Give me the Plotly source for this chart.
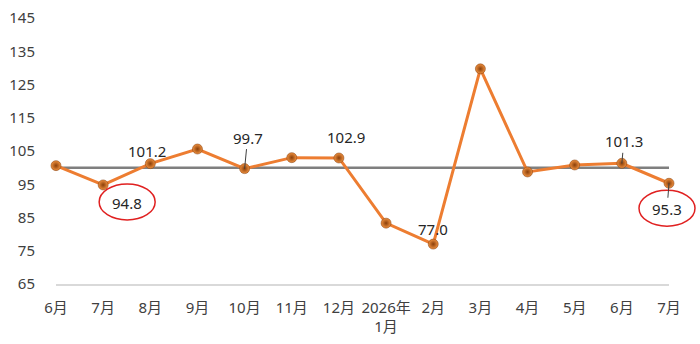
import plotly.graph_objects as go

months = ["6月", "7月", "8月", "9月", "10月", "11月", "12月", "2026年<br>1月",
          "2月", "3月", "4月", "5月", "6月", "7月"]
values = [100.6, 94.8, 101.2, 105.6, 99.7, 103.0, 102.9, 83.3, 77.0, 129.7, 98.7, 100.8, 101.3, 95.3]
baseline = 100
y_ticks = [65, 75, 85, 95, 105, 115, 125, 135, 145]
y_min, y_max = 65, 145

# labelled points: index -> (dx, dy, leader line, circled)
labels = {1: (24, 18, False, True), 2: (-3, -13, False, False), 4: (3, -31, True, False),
          6: (7, -21, False, False), 8: (0, -15, False, False), 12: (2, -22, True, False),
          13: (-2, 26, True, True)}

xs = list(range(len(months)))
font_family = "Noto Sans, Noto Sans CJK SC, sans-serif"

fig = go.Figure()
fig.add_trace(go.Scatter(x=xs, y=[baseline] * len(xs), mode="lines",
                         line=dict(color="#7f7f7f", width=2.5), hoverinfo="skip",
                         cliponaxis=False))
fig.add_trace(go.Scatter(x=xs, y=values, mode="lines+markers",
                         line=dict(color="#ED7D31", width=3),
                         marker=dict(size=10, color="#F0913F",
                                     gradient=dict(type="radial", color="#8a3f0a"),
                                     line=dict(width=0.5, color="#7a3608")),
                         cliponaxis=False))

annotations = []
shapes = []
for i, (dx, dy, leader, circled) in labels.items():
    txt = f"{values[i]:.1f}"
    if leader:
        annotations.append(dict(x=i, y=values[i], xref="x", yref="y", text=txt,
                                showarrow=True, ax=dx, ay=dy, arrowhead=0, arrowwidth=1,
                                arrowcolor="#404040", standoff=0,
                                font=dict(size=15, color="#262626", family=font_family)))
    else:
        annotations.append(dict(x=i, y=values[i], xref="x", yref="y", text=txt,
                                showarrow=False, xshift=dx, yshift=-dy,
                                font=dict(size=15, color="#262626", family=font_family)))
    if circled:
        cy = dy - 1
        px = i / (len(xs) - 1)
        py = (values[i] - y_min) / (y_max - y_min)
        shapes.append(dict(type="circle", xref="paper", yref="paper", xsizemode="pixel",
                           ysizemode="pixel", xanchor=px, yanchor=py,
                           x0=dx - 28, x1=dx + 28, y0=-cy - 18, y1=-cy + 18,
                           line=dict(color="#E02020", width=1.5)))

fig.update_layout(
    width=700, height=344,
    margin=dict(l=56, r=31, t=18, b=60, autoexpand=False),
    paper_bgcolor="white", plot_bgcolor="white",
    showlegend=False,
    font=dict(family=font_family, size=15, color="#404040"),
    annotations=annotations, shapes=shapes,
    xaxis=dict(range=[0, len(xs) - 1], tickmode="array", tickvals=xs, ticktext=months,
               showgrid=False, zeroline=False, showline=True, linecolor="#d9d9d9",
               linewidth=1.5, ticks="", ticklabelstandoff=9, automargin=False,
               tickfont=dict(size=15, color="#404040")),
    yaxis=dict(range=[y_min, y_max], tickmode="array", tickvals=y_ticks, showgrid=False,
               zeroline=False, showline=False, ticks="", ticklabelstandoff=20,
               automargin=False, tickfont=dict(size=15, color="#404040")),
)

fig.write_html("out.html")
